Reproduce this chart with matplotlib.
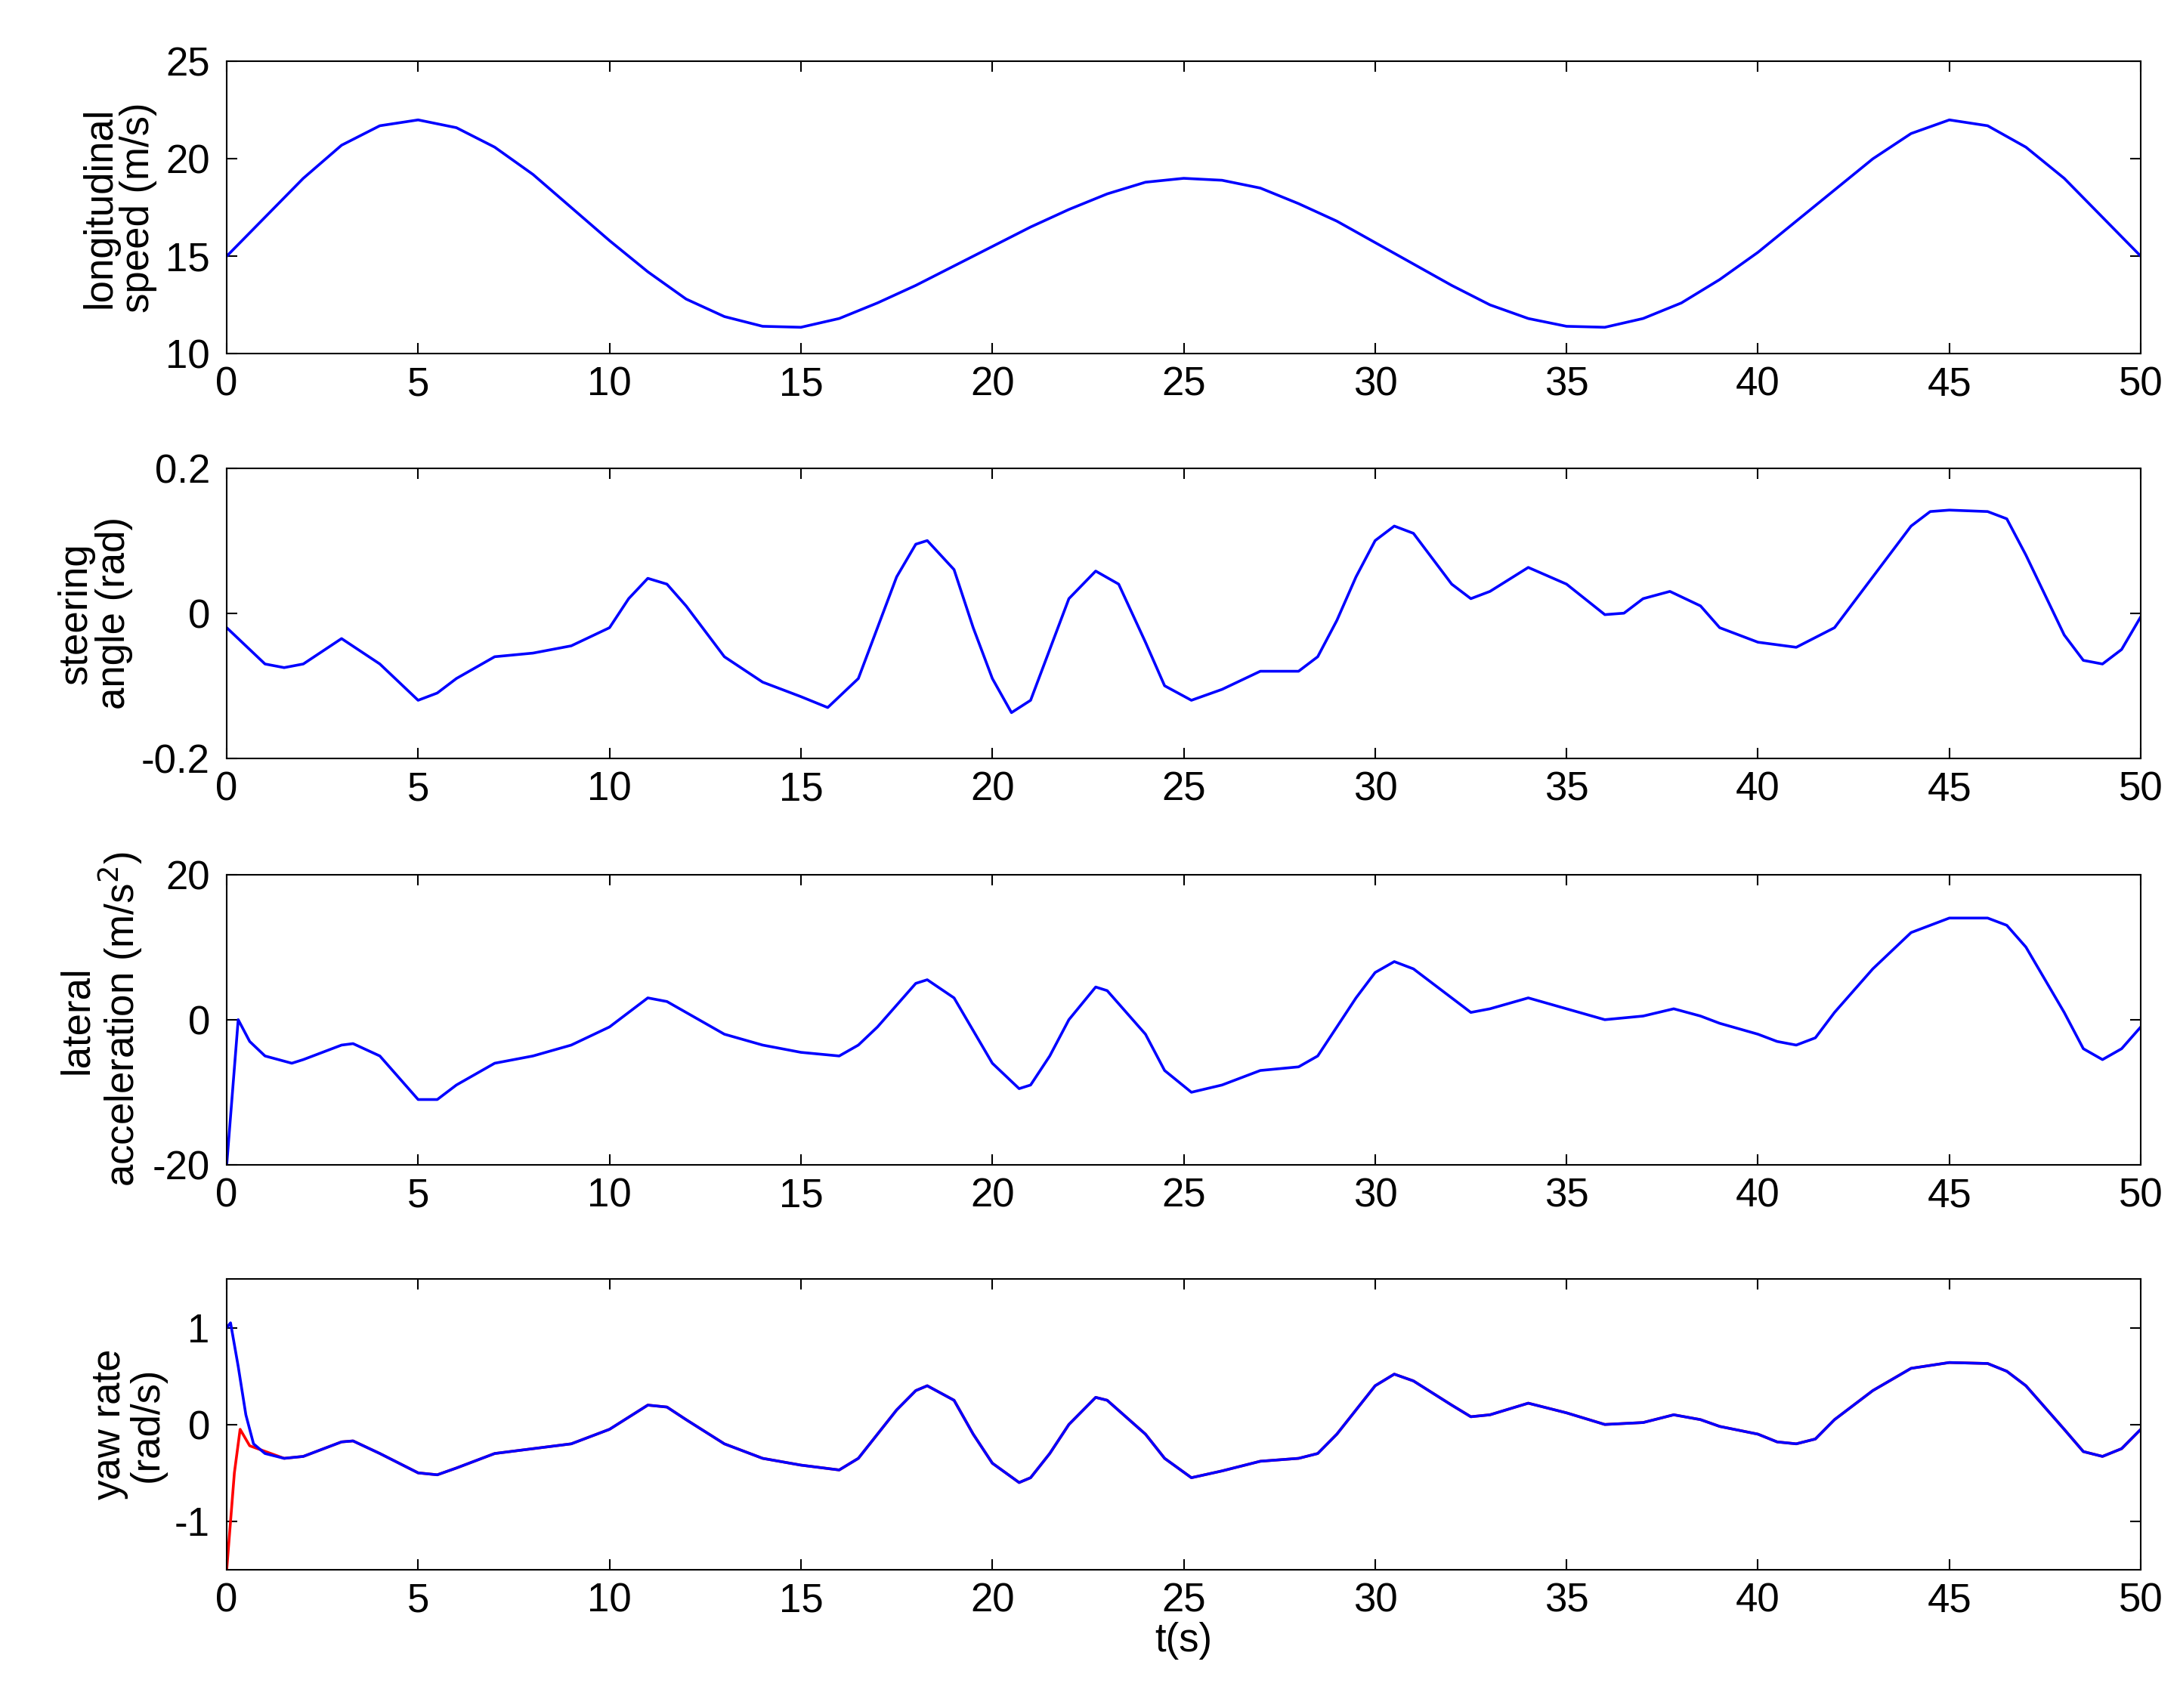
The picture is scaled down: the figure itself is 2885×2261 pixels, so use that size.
import matplotlib
matplotlib.use("Agg")
import matplotlib.pyplot as plt

plt.rcParams['font.family'] = ['Liberation Sans', 'DejaVu Sans']
plt.rcParams['axes.unicode_minus'] = False

# ---- data ----
t_speed = list(range(0, 51))
speed = [15, 17, 19, 20.7, 21.7, 22, 21.6, 20.6, 19.2, 17.5, 15.8, 14.2, 12.8, 11.9, 11.4,
         11.35, 11.8, 12.6, 13.5, 14.5, 15.5, 16.5, 17.4, 18.2, 18.8, 19, 18.9, 18.5, 17.7,
         16.8, 15.7, 14.6, 13.5, 12.5, 11.8, 11.4, 11.35, 11.8, 12.6, 13.8, 15.2, 16.8, 18.4,
         20, 21.3, 22, 21.7, 20.6, 19, 17, 15]

t_steer = [0, 1, 1.5, 2, 3, 4, 5, 5.5, 6, 7, 8, 9, 10, 10.5, 11, 11.5, 12, 13, 14, 15, 15.7,
           16.5, 17, 17.5, 18, 18.3, 19, 19.5, 20, 20.5, 21, 21.5, 22, 22.7, 23.3, 24, 24.5,
           25.2, 26, 27, 28, 28.5, 29, 29.5, 30, 30.5, 31, 32, 32.5, 33, 34, 35, 36, 36.5, 37,
           37.7, 38.5, 39, 40, 41, 42, 43, 44, 44.5, 45, 46, 46.5, 47, 48, 48.5, 49, 49.5, 50]
steer = [-0.02, -0.07, -0.075, -0.07, -0.035, -0.07, -0.12, -0.11, -0.09, -0.06, -0.055,
         -0.045, -0.02, 0.02, 0.048, 0.04, 0.01, -0.06, -0.095, -0.115, -0.13, -0.09, -0.02,
         0.05, 0.095, 0.1, 0.06, -0.02, -0.09, -0.137, -0.12, -0.05, 0.02, 0.058, 0.04, -0.04,
         -0.1, -0.12, -0.105, -0.08, -0.08, -0.06, -0.01, 0.05, 0.1, 0.12, 0.11, 0.04, 0.02,
         0.03, 0.063, 0.04, -0.002, 0, 0.02, 0.03, 0.01, -0.02, -0.04, -0.047, -0.02, 0.05,
         0.12, 0.14, 0.142, 0.14, 0.13, 0.08, -0.03, -0.065, -0.07, -0.05, -0.005]

t_dyn = [0, 0.3, 0.6, 1, 1.7, 2, 3, 3.3, 4, 5, 5.5, 6, 7, 8, 9, 10, 11, 11.5, 12, 13, 14, 15,
         16, 16.5, 17, 17.5, 18, 18.3, 19, 19.5, 20, 20.7, 21, 21.5, 22, 22.7, 23, 24, 24.5,
         25.2, 26, 27, 28, 28.5, 29, 29.5, 30, 30.5, 31, 32, 32.5, 33, 34, 35, 36, 37, 37.8,
         38.5, 39, 40, 40.5, 41, 41.5, 42, 43, 44, 45, 46, 46.5, 47, 48, 48.5, 49, 49.5, 50]
lat_acc = [-20, 0, -3, -5, -6, -5.5, -3.5, -3.3, -5, -11, -11, -9, -6, -5, -3.5, -1, 3, 2.5,
           1, -2, -3.5, -4.5, -5, -3.5, -1, 2, 5, 5.5, 3, -1.5, -6, -9.5, -9, -5, 0, 4.5, 4,
           -2, -7, -10, -9, -7, -6.5, -5, -1, 3, 6.5, 8, 7, 3, 1, 1.5, 3, 1.5, 0, 0.5, 1.5,
           0.5, -0.5, -2, -3, -3.5, -2.5, 1, 7, 12, 14, 14, 13, 10, 1, -4, -5.5, -4, -1]

t_yaw = [0, 0.1, 0.3, 0.5, 0.7, 1, 1.5, 2, 3, 3.3, 4, 5, 5.5, 6, 7, 8, 9, 10, 11, 11.5, 12,
         13, 14, 15, 16, 16.5, 17, 17.5, 18, 18.3, 19, 19.5, 20, 20.7, 21, 21.5, 22, 22.7, 23,
         24, 24.5, 25.2, 26, 27, 28, 28.5, 29, 29.5, 30, 30.5, 31, 32, 32.5, 33, 34, 35, 36,
         37, 37.8, 38.5, 39, 40, 40.5, 41, 41.5, 42, 43, 44, 45, 46, 46.5, 47, 48, 48.5, 49,
         49.5, 50]
yaw_meas = [1.0, 1.05, 0.6, 0.1, -0.2, -0.3, -0.35, -0.33, -0.18, -0.17, -0.3, -0.5, -0.52,
            -0.45, -0.3, -0.25, -0.2, -0.05, 0.2, 0.18, 0.05, -0.2, -0.35, -0.42, -0.47, -0.35,
            -0.1, 0.15, 0.35, 0.4, 0.25, -0.1, -0.4, -0.6, -0.55, -0.3, 0, 0.28, 0.25, -0.1,
            -0.35, -0.55, -0.48, -0.38, -0.35, -0.3, -0.1, 0.15, 0.4, 0.52, 0.45, 0.2, 0.08,
            0.1, 0.22, 0.12, 0, 0.02, 0.1, 0.05, -0.02, -0.1, -0.18, -0.2, -0.15, 0.05, 0.35,
            0.58, 0.64, 0.63, 0.55, 0.4, -0.05, -0.28, -0.33, -0.25, -0.05]
t_yaw_start = [0, 0.1, 0.2, 0.35, 0.6]
yaw_est_start = [-1.5, -1.0, -0.5, -0.05, -0.22]

FS = 38
LW = 2.6

fig = plt.figure(figsize=(28.85, 22.61), dpi=100)
rows = [(0.793, 0.171), (0.556, 0.170), (0.318, 0.170), (0.081, 0.170)]
axes = [fig.add_axes([0.104, b, 0.878, h]) for b, h in rows]

def style(ax, ylim, yticks, ylabel):
    ax.set_xlim(0, 50)
    ax.set_ylim(*ylim)
    ax.set_xticks(range(0, 51, 5))
    ax.set_yticks(yticks)
    ax.tick_params(direction='in', top=True, right=True, labelsize=FS,
                   length=10, width=1.5)
    ax.tick_params(axis='x', pad=12)
    ax.tick_params(axis='y', pad=16)
    for s in ax.spines.values():
        s.set_linewidth(1.5)
    ax.set_ylabel(ylabel, fontsize=FS, linespacing=1.0, labelpad=8)

ax = axes[0]
ax.plot(t_speed, speed, color='blue', lw=LW)
style(ax, (10, 25), [10, 15, 20, 25], 'longitudinal\nspeed (m/s)')

ax = axes[1]
ax.plot(t_steer, steer, color='blue', lw=LW)
style(ax, (-0.2, 0.2), [-0.2, 0, 0.2], 'steering\nangle (rad)')
ax.set_yticklabels(['-0.2', '0', '0.2'])

ax = axes[2]
ax.plot(t_dyn, lat_acc, color='blue', lw=LW)
style(ax, (-20, 20), [-20, 0, 20], 'lateral\nacceleration (m/s$^2$)')

ax = axes[3]
ax.plot(t_yaw_start + t_yaw[6:], yaw_est_start + yaw_meas[6:], color='red', lw=LW)
ax.plot(t_yaw, yaw_meas, color='blue', lw=LW)
style(ax, (-1.5, 1.5), [-1, 0, 1], 'yaw rate\n(rad/s)')
ax.set_xlabel('t(s)', fontsize=FS, labelpad=2)

fig.savefig('out.png', dpi=100)
